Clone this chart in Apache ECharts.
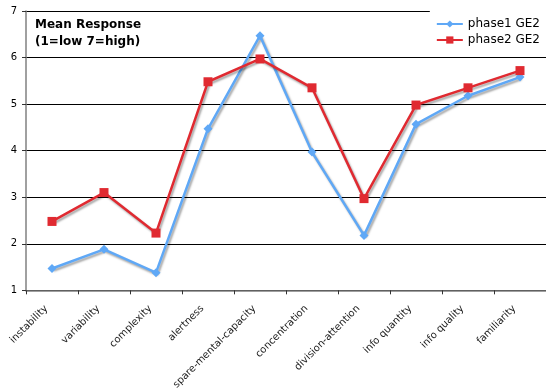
<!DOCTYPE html>
<html>
<head>
<meta charset="utf-8">
<script src="https://cdn.jsdelivr.net/npm/echarts@6/dist/echarts.min.js"></script>
<style>
  html, body { margin: 0; padding: 0; background: #fff; }
  #chart { width: 546px; height: 392px; }
</style>
</head>
<body>
<div id="chart"></div>
<script>
const categories = ['instability', 'variability', 'complexity', 'alertness', 'spare-mental-capacity',
  'concentration', 'division-attention', 'info quantity', 'info quality', 'familiarity'];
const phase1 = [1.47, 1.88, 1.38, 4.47, 6.47, 3.97, 2.18, 4.57, 5.18, 5.58];
const phase2 = [2.48, 3.10, 2.23, 5.48, 5.97, 5.35, 2.97, 4.98, 5.35, 5.72];
const seriesNames = ['phase1 GE2', 'phase2 GE2'];

const font = 'DejaVu Sans, Verdana, sans-serif';
const shadow = { shadowColor: 'rgba(0,0,0,0.35)', shadowBlur: 2, shadowOffsetX: 1.5, shadowOffsetY: 2 };

const chart = echarts.init(document.getElementById('chart'));
chart.setOption({
  animation: false,
  backgroundColor: '#fff',
  grid: { left: 26, right: 0, top: 11, bottom: 100 },
  title: {
    text: 'Mean Response\n(1=low 7=high)',
    left: 30, top: 11,
    textStyle: { fontFamily: font, fontSize: 12, fontWeight: 'bold', color: '#000', lineHeight: 17 }
  },
  legend: {
    orient: 'vertical',
    right: 0, top: 11,
    padding: [7, 6, 8, 6],
    backgroundColor: '#fff',
    itemWidth: 26, itemHeight: 9, itemGap: 4,
    textStyle: { fontFamily: font, fontSize: 12, color: '#000' },
    data: seriesNames
  },
  xAxis: {
    type: 'category',
    data: categories,
    boundaryGap: true,
    axisLine: { lineStyle: { color: '#808080', width: 1.5 } },
    axisTick: { show: true, length: 4, lineStyle: { color: '#333' } },
    axisLabel: {
      rotate: 45, interval: 0, margin: 11, padding: [0, 8, 0, 0],
      fontFamily: font, fontSize: 10, color: '#222'
    }
  },
  yAxis: {
    type: 'value',
    min: 1, max: 7, interval: 1,
    axisLine: { show: true, lineStyle: { color: '#808080', width: 1.5 } },
    axisTick: { show: true, length: 4, lineStyle: { color: '#333' } },
    axisLabel: { fontFamily: font, fontSize: 10, color: '#000', margin: 9 },
    splitLine: { lineStyle: { color: '#000', width: 1 } }
  },
  series: [
    {
      name: seriesNames[0], type: 'line', data: phase1,
      symbol: 'diamond', symbolSize: 9,
      itemStyle: { color: '#5FA8F6' },
      lineStyle: Object.assign({ color: '#5FA8F6', width: 2.5 }, shadow)
    },
    {
      name: seriesNames[1], type: 'line', data: phase2,
      symbol: 'rect', symbolSize: 9,
      itemStyle: { color: '#E02A31' },
      lineStyle: Object.assign({ color: '#E02A31', width: 2.5 }, shadow)
    }
  ]
});
</script>
</body>
</html>
